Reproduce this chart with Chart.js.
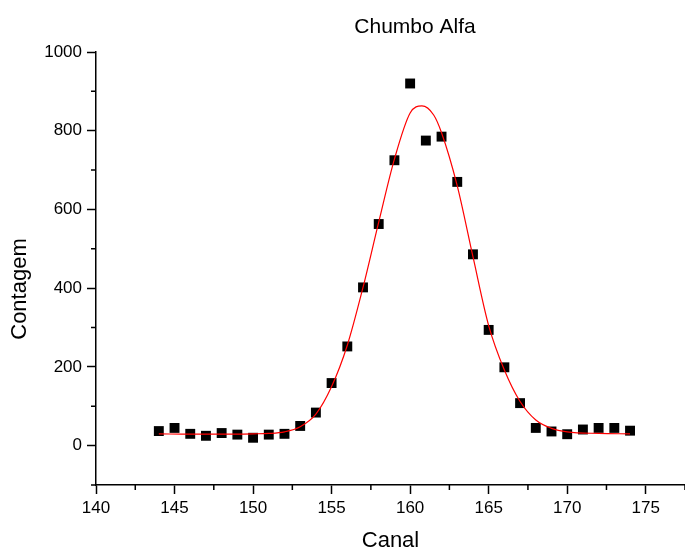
<!DOCTYPE html>
<html>
<head>
<meta charset="utf-8">
<script src="https://cdn.jsdelivr.net/npm/chart.js@4"></script>
<style>
    html, body { margin: 0; padding: 0; background: #fff; }
    #wrap { width: 685px; height: 549px; }
</style>
</head>
<body>
<div id="wrap"><canvas id="chart" width="685" height="549"></canvas></div>
<script>
// Measured counts per channel
const channels = [144, 145, 146, 147, 148, 149, 150, 151, 152, 153, 154, 155, 156, 157, 158, 159,
    160, 161, 162, 163, 164, 165, 166, 167, 168, 169, 170, 171, 172, 173, 174];
const counts = [37, 45, 30, 25, 32, 28, 20, 28, 30, 50, 84, 159, 252, 402, 563, 725,
    920, 775, 785, 670, 486, 294, 199, 108, 45, 36, 29, 41, 45, 45, 38];

// Fitted curve
const fitChannels = [144, 146, 148, 150, 151, 152, 153, 154, 155, 156, 157, 158, 159, 160,
    160.75, 161.5, 162, 163, 164, 165, 166, 167, 168, 169, 170, 172, 174];
const fitCounts = [30, 29, 29, 30, 31, 35, 48, 80, 150, 255, 402, 568, 728, 845,
    863, 840, 795, 660, 480, 305, 192, 112, 65, 44, 35, 31, 30];

// Labelled ticks
const xTickLabels = [140, 145, 150, 155, 160, 165, 170, 175];
const yTickLabels = [0, 200, 400, 600, 800, 1000];

const FONT = "'Liberation Sans', Arial, sans-serif";

// Titles and minor tick marks
const extrasPlugin = {
    id: 'extras',
    afterDraw(chart) {
        const ctx = chart.ctx;
        ctx.save();
        ctx.fillStyle = '#000';
        ctx.textAlign = 'center';
        ctx.textBaseline = 'middle';
        ctx.font = '21px ' + FONT;
        ctx.fillText('Chumbo Alfa', 415, 27);
        ctx.font = '22px ' + FONT;
        ctx.translate(20, 289);
        ctx.rotate(-Math.PI / 2);
        ctx.fillText('Contagem', 0, 0);
        ctx.restore();

        // short ticks between the labelled ones
        const xs = chart.scales.x, ys = chart.scales.y;
        ctx.save();
        ctx.strokeStyle = '#000';
        ctx.lineWidth = 1.5;
        ctx.beginPath();
        xs.ticks.forEach(t => {
            if (xTickLabels.includes(t.value)) return;
            const px = xs.getPixelForValue(t.value);
            ctx.moveTo(px, xs.top);
            ctx.lineTo(px, xs.top + 5);
        });
        ys.ticks.forEach(t => {
            if (yTickLabels.includes(t.value)) return;
            const py = ys.getPixelForValue(t.value);
            ctx.moveTo(ys.right, py);
            ctx.lineTo(ys.right - 5, py);
        });
        ctx.stroke();
        ctx.restore();
    }
};

new Chart(document.getElementById('chart'), {
    type: 'scatter',
    data: {
        datasets: [{
            label: 'Ajuste',
            data: fitChannels.map((x, i) => ({ x: x, y: fitCounts[i] })),
            showLine: true,
            borderColor: '#ff0000',
            borderWidth: 1.2,
            pointRadius: 0,
            cubicInterpolationMode: 'monotone',
            fill: false
        }, {
            label: 'Contagem',
            data: channels.map((x, i) => ({ x: x, y: counts[i] })),
            pointStyle: 'rect',
            pointRadius: 7,
            pointHoverRadius: 7,
            backgroundColor: '#000',
            borderColor: '#000',
            borderWidth: 0
        }]
    },
    options: {
        responsive: false,
        animation: false,
        devicePixelRatio: 1,
        layout: {
            autoPadding: false,
            padding: { top: 52, left: 0, right: 0, bottom: 0 }
        },
        plugins: {
            legend: { display: false },
            title: { display: false },
            tooltip: { enabled: false }
        },
        scales: {
            x: {
                type: 'linear',
                min: 140,
                max: 177.5,
                afterFit: (scale) => {
                    scale.height = 64;
                    scale.paddingRight = 0;
                    scale.paddingLeft = 0;
                },
                border: { display: true, color: '#000', width: 1.5 },
                grid: {
                    drawOnChartArea: false,
                    tickLength: 9,
                    tickWidth: 1.5,
                    tickColor: (c) => xTickLabels.includes(c.tick.value) ? '#000' : 'rgba(0,0,0,0)'
                },
                ticks: {
                    stepSize: 2.5,
                    autoSkip: false,
                    maxRotation: 0,
                    padding: 4,
                    color: '#000',
                    font: { family: FONT, size: 17 },
                    callback: (v) => xTickLabels.includes(v) ? String(v) : ''
                },
                title: {
                    display: true,
                    text: 'Canal',
                    color: '#000',
                    font: { family: FONT, size: 22, lineHeight: 0.75 },
                    padding: { top: 0, bottom: 0 }
                }
            },
            y: {
                type: 'linear',
                min: -100,
                max: 1000,
                afterFit: (scale) => { scale.width = 96; },
                border: { display: true, color: '#000', width: 1.5 },
                grid: {
                    drawOnChartArea: false,
                    tickLength: 9,
                    tickWidth: 1.5,
                    tickColor: (c) => yTickLabels.includes(c.tick.value) ? '#000' : 'rgba(0,0,0,0)'
                },
                ticks: {
                    stepSize: 100,
                    autoSkip: false,
                    padding: 5,
                    color: '#000',
                    font: { family: FONT, size: 17 },
                    callback: (v) => yTickLabels.includes(v) ? String(v) : ''
                }
            }
        }
    },
    plugins: [extrasPlugin]
});
</script>
</body>
</html>
